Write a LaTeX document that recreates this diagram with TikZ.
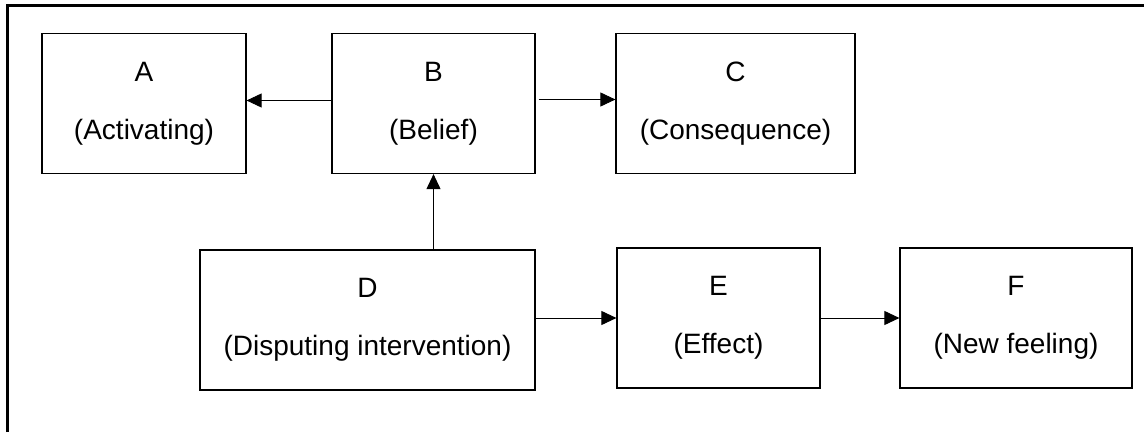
\documentclass[tikz,border=0pt]{standalone}
\usepackage{fontspec}
\setmainfont{Liberation Sans}
\usepackage{tikz}
\usetikzlibrary{arrows.meta}

\tikzset{
  stagebox/.style={draw, line width=1.2pt, inner sep=0pt, align=center,
    font={\fontsize{28}{58}\selectfont}, minimum height=140pt},
  link/.style={line width=0.9pt, -{Triangle[length=15pt,width=14pt]}}
}

\begin{document}
\begin{tikzpicture}[x=1pt,y=1pt]
\useasboundingbox (0,0) rectangle (1144,432);

% Outer frame
\draw[line width=3pt] (7,0) -- (7,426) -- (1144,426);

% Top row
\node[stagebox, minimum width=204pt] (A) at (144,328.5) {A\\(Activating)};
\node[stagebox, minimum width=203pt] (B) at (433.5,328.5) {B\\(Belief)};
\node[stagebox, minimum width=239pt] (C) at (735.5,328.5) {C\\(Consequence)};

% Bottom row
\node[stagebox, minimum width=335pt] (D) at (367.5,112) {D\\(Disputing intervention)};
\node[stagebox, minimum width=203pt] (E) at (718.5,114) {E\\(Effect)};
\node[stagebox, minimum width=232pt] (F) at (1016,114) {F\\(New feeling)};

% Arrows
\draw[link] ([yshift=3pt]B.west) -- ([yshift=3pt]A.east);
\draw[link] ([xshift=3pt,yshift=4pt]B.east) -- ([yshift=4pt]C.west);
\draw[link] (B.south |- D.north) -- (B.south);
\draw[link] (D.east |- E.west) -- (E.west);
\draw[link] (E.east) -- (F.west);
\end{tikzpicture}
\end{document}
